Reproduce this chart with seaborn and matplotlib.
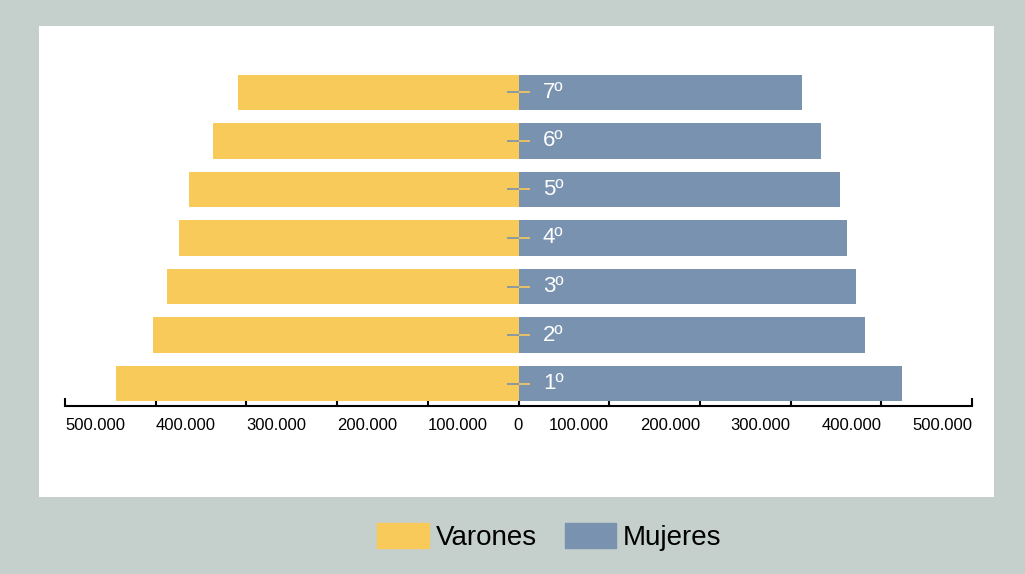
import numpy as np
import matplotlib.pyplot as plt
import matplotlib.patches as mpatches
from matplotlib.ticker import FuncFormatter
import seaborn as sns
import pandas as pd

# data (students per course)
cursos = ['7º', '6º', '5º', '4º', '3º', '2º', '1º']
varones = [309000, 337000, 363000, 374000, 388000, 403000, 444000]
mujeres = [313000, 334000, 355000, 362000, 372000, 382000, 423000]
ticks = [-500000, -400000, -300000, -200000, -100000, 0, 100000, 200000, 300000, 400000, 500000]

YELLOW = '#f7ca5a'
BLUE = '#7892b0'
BG = '#c5d0cd'

df = pd.DataFrame({'curso': cursos, 'varones': [-v for v in varones], 'mujeres': mujeres})

sns.set_style('white')
plt.rcParams['font.family'] = ['Liberation Sans', 'DejaVu Sans']
plt.rcParams['text.color'] = 'black'
plt.rcParams['xtick.color'] = 'black'

fig = plt.figure(figsize=(10.25, 5.74), dpi=100, facecolor=BG)
# white panel behind the chart
fig.patches.append(mpatches.Rectangle((39 / 1025, 1 - 497 / 574), 955 / 1025, 471 / 574,
                                      transform=fig.transFigure, facecolor='white',
                                      edgecolor='none', zorder=-1))
ax = fig.add_axes([65 / 1025, 1 - 406 / 574, 907 / 1025, (406 - 68) / 574])
ax.patch.set_alpha(0)
ax.set_zorder(2)

sns.barplot(data=df, y='curso', x='varones', order=cursos, color=YELLOW,
            width=0.73, orient='h', saturation=1, linewidth=0, ax=ax)
sns.barplot(data=df, y='curso', x='mujeres', order=cursos, color=BLUE,
            width=0.73, orient='h', saturation=1, linewidth=0, ax=ax)

# small two-colour ticks at the centre of each bar
pos = np.arange(len(cursos))
ax.hlines(pos, -13000, 0, color=BLUE, lw=1.2, zorder=5)
ax.hlines(pos, 0, 13000, color=YELLOW, lw=1.2, zorder=5)

for i, c in enumerate(cursos):
    ax.text(27000, i, c, color='white', fontsize=16, va='center', ha='left')

ax.set_xlim(-500000, 500000)
ax.set_ylim(6.46, -0.5)
ax.set_xticks(ticks)
ax.xaxis.set_major_formatter(FuncFormatter(lambda v, p: f'{abs(int(v)):,}'.replace(',', '.')))
ax.tick_params(axis='x', direction='in', length=6, width=1.5, labelsize=12, pad=8.5,
               bottom=True, color='black', labelcolor='black')
# labels lean towards the centre: left side starts at its tick, right side ends at it
for t, lab in zip(ticks, ax.get_xticklabels()):
    if t < 0:
        lab.set_ha('left')
    elif t > 0:
        lab.set_ha('right')
ax.set_yticks([])
ax.set_xlabel('')
ax.set_ylabel('')
for s in ['top', 'left', 'right']:
    ax.spines[s].set_visible(False)
ax.spines['bottom'].set_linewidth(1.5)
ax.spines['bottom'].set_color('black')

handles = [mpatches.Patch(color=YELLOW, label='Varones'),
           mpatches.Patch(color=BLUE, label='Mujeres')]
leg = fig.legend(handles=handles, loc='center', bbox_to_anchor=(0.536, 0.065), ncol=2,
                 frameon=False, fontsize=20, handlelength=1.85, handleheight=1.05,
                 handletextpad=0.25, columnspacing=1.0)
for t in leg.get_texts():
    t.set_color('black')

fig.savefig('out.png', dpi=100, facecolor=BG)
